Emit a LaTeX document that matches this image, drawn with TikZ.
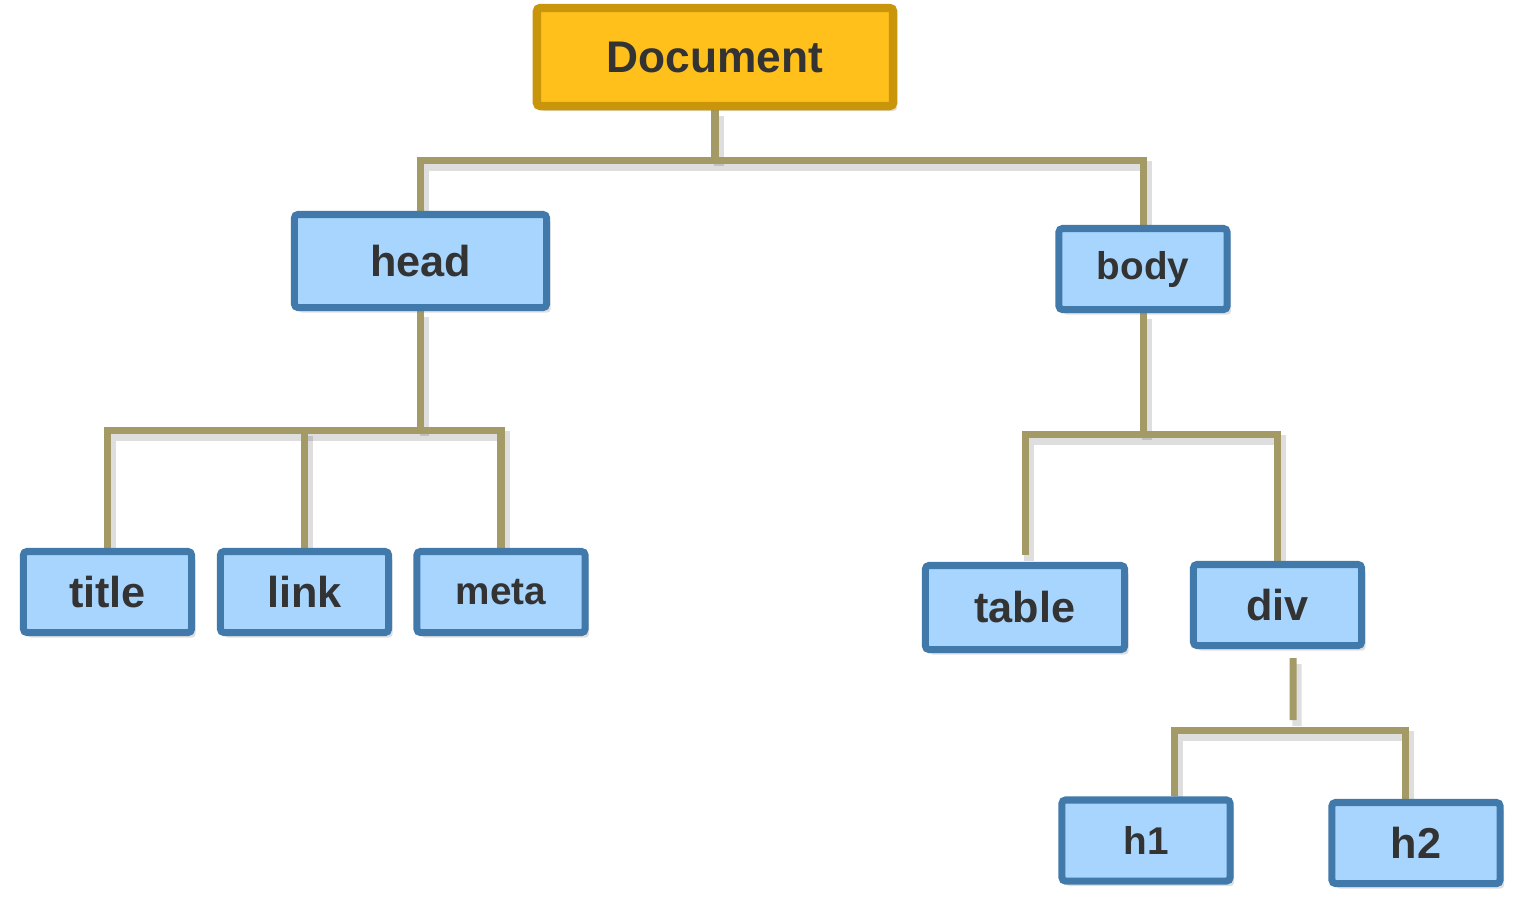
\documentclass[tikz,border=0pt]{standalone}
\usepackage{fontspec}
\setmainfont{Liberation Sans}
\usetikzlibrary{shadows,backgrounds}
\definecolor{docfill}{HTML}{FFC01B}
\definecolor{docline}{HTML}{C8950B}
\definecolor{tagfill}{HTML}{A8D5FD}
\definecolor{tagline}{HTML}{4079AA}
\definecolor{wirecol}{HTML}{A49A65}
\definecolor{textcol}{HTML}{333333}
\begin{document}
\begin{tikzpicture}[x=0.01cm,y=-0.01cm,
    box/.style={draw,line width=2pt,rounded corners=1pt,inner sep=0pt,
      text=textcol,font=\fontsize{12.3}{14}\selectfont\bfseries,
      drop shadow={shadow xshift=0.04cm,shadow yshift=-0.05cm,opacity=0.25}},
    docbox/.style={box,line width=2.4pt,fill=docfill,draw=docline,minimum width=3.56cm,minimum height=0.98cm},
    tagbox/.style={box,fill=tagfill,draw=tagline,minimum width=1.68cm,minimum height=0.81cm},
    small/.style={font=\fontsize{11}{13}\selectfont\bfseries},
    wire/.style={draw=wirecol,line width=2pt,
      preaction={draw=black,opacity=0.13,line width=2.6pt,
        transform canvas={xshift=0.04cm,yshift=-0.06cm}}}]
  \useasboundingbox (0,0) rectangle (1525,917);

  % Root
  \node[docbox] (doc) at (715,57) {\fontsize{12.6}{14}\selectfont Document};

  % head and its children
  \node[tagbox,minimum width=2.52cm,minimum height=0.93cm] (head) at (420.5,261) {head};
  \node[tagbox] (title) at (107.5,592) {title};
  \node[tagbox] (link) at (304.5,592) {link};
  \node[tagbox,small] (meta) at (501,592) {meta};

  % body and its children
  \node[tagbox,small] (body) at (1143,269) {body};
  \node[tagbox,minimum width=1.99cm,minimum height=0.84cm] (table) at (1025,607.5) {table};
  \node[tagbox] (div) at (1277.5,605) {div};
  \node[tagbox,small] (h1) at (1146,840.5) {h1};
  \node[tagbox] (h2) at (1416,843) {h2};

  % Junction points
  \coordinate (docbar) at (715,160);
  \coordinate (headbar) at (420.5,430);
  \coordinate (bodybar) at (1143,434);
  \coordinate (divbar) at (1293,730);

  % Connectors
  \begin{scope}[on background layer]
    \draw[wire] (doc.south) -- (docbar);
    \draw[wire] (head.north) |- (docbar) -| (body.north);
    \draw[wire] (head.south) -- (headbar);
    \draw[wire] (title.north) |- (headbar) -| (meta.north);
    \draw[wire] (link.north) -- (link.north |- headbar);
    \draw[wire] (body.south) -- (bodybar);
    \draw[wire,shorten <=0.07cm] (table.north) |- (bodybar) -| (div.north);
    \draw[wire,shorten <=0.09cm,shorten >=0.1cm] ([xshift=0.155cm]div.south) -- (divbar);
    \draw[wire] ([xshift=0.28cm]h1.north) |- (divbar) -| ([xshift=-0.11cm]h2.north);
  \end{scope}
\end{tikzpicture}
\end{document}
